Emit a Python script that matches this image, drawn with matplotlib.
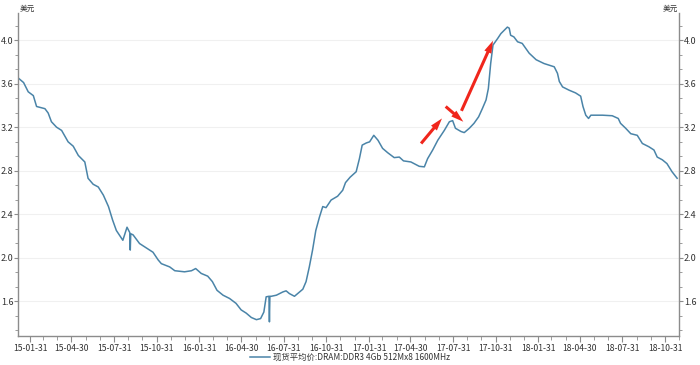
import matplotlib
matplotlib.use('Agg')
import matplotlib.pyplot as plt
import matplotlib.dates as mdates
from matplotlib.ticker import MultipleLocator
import pandas as pd

plt.rcParams['font.family'] = ['Noto Sans CJK SC', 'DejaVu Sans']

# ── Data ─────────────────────────────────────────────────────────────────────
dates = [
    '2015-01-06', '2015-01-17', '2015-01-27', '2015-02-07', '2015-02-14', '2015-03-04',
    '2015-03-11', '2015-03-18', '2015-03-29', '2015-04-09', '2015-04-23', '2015-05-04',
    '2015-05-15', '2015-05-29', '2015-06-05', '2015-06-16', '2015-06-27', '2015-07-08',
    '2015-07-19', '2015-07-28', '2015-08-05', '2015-08-19', '2015-08-28', '2015-09-03',
    '2015-09-04', '2015-09-05', '2015-09-10', '2015-09-24', '2015-10-05', '2015-10-23',
    '2015-11-03', '2015-11-10', '2015-11-28', '2015-12-09', '2015-12-30', '2016-01-14',
    '2016-01-23', '2016-02-04', '2016-02-18', '2016-02-28', '2016-03-09', '2016-03-22',
    '2016-04-05', '2016-04-19', '2016-04-30', '2016-05-11', '2016-05-22', '2016-06-02',
    '2016-06-11', '2016-06-18', '2016-06-23', '2016-06-29', '2016-06-30', '2016-07-01',
    '2016-07-04', '2016-07-15', '2016-07-29', '2016-08-05', '2016-08-12', '2016-08-23',
    '2016-09-10', '2016-09-17', '2016-09-24', '2016-10-01', '2016-10-08', '2016-10-16',
    '2016-10-23', '2016-10-30', '2016-11-10', '2016-11-24', '2016-12-05', '2016-12-11',
    '2016-12-21', '2017-01-03', '2017-01-10', '2017-01-16', '2017-01-25', '2017-02-01',
    '2017-02-10', '2017-02-19', '2017-03-01', '2017-03-12', '2017-03-26', '2017-04-06',
    '2017-04-15', '2017-05-01', '2017-05-19', '2017-05-30', '2017-06-06', '2017-06-17',
    '2017-06-28', '2017-07-12', '2017-07-23', '2017-07-30', '2017-08-05', '2017-08-17',
    '2017-08-24', '2017-09-04', '2017-09-14', '2017-09-24', '2017-10-02', '2017-10-10',
    '2017-10-15', '2017-10-20', '2017-10-25', '2017-11-04', '2017-11-11', '2017-11-18',
    '2017-11-25', '2017-11-29', '2017-12-02', '2017-12-09', '2017-12-17', '2017-12-27',
    '2018-01-11', '2018-01-26', '2018-02-12', '2018-03-06', '2018-03-13', '2018-03-17',
    '2018-03-24', '2018-04-07', '2018-04-21', '2018-05-02', '2018-05-07', '2018-05-13',
    '2018-05-19', '2018-05-24', '2018-06-18', '2018-07-09', '2018-07-22', '2018-07-27',
    '2018-08-07', '2018-08-18', '2018-09-01', '2018-09-12', '2018-09-26', '2018-10-07',
    '2018-10-14', '2018-10-25', '2018-11-04', '2018-11-15', '2018-11-26',
]
prices = [
    3.65, 3.61, 3.525, 3.49, 3.39, 3.37,
    3.33, 3.25, 3.20, 3.17, 3.065, 3.025,
    2.94, 2.88, 2.73, 2.675, 2.65, 2.575,
    2.47, 2.345, 2.25, 2.16, 2.28, 2.23,
    2.07, 2.22, 2.21, 2.13, 2.10, 2.05,
    1.98, 1.945, 1.915, 1.88, 1.87, 1.88,
    1.90, 1.855, 1.83, 1.78, 1.70, 1.655,
    1.625, 1.58, 1.52, 1.49, 1.45, 1.43,
    1.44, 1.50, 1.64, 1.645, 1.41, 1.645,
    1.645, 1.655, 1.685, 1.695, 1.67, 1.645,
    1.71, 1.78, 1.915, 2.07, 2.25, 2.375,
    2.47, 2.46, 2.53, 2.565, 2.62, 2.69,
    2.74, 2.79, 2.91, 3.035, 3.055, 3.065,
    3.125, 3.08, 3.005, 2.965, 2.92, 2.925,
    2.89, 2.88, 2.84, 2.835, 2.91, 2.99,
    3.08, 3.17, 3.25, 3.26, 3.19, 3.16,
    3.15, 3.19, 3.235, 3.295, 3.37, 3.45,
    3.555, 3.785, 3.955, 4.015, 4.06, 4.09,
    4.12, 4.11, 4.045, 4.03, 3.985, 3.97,
    3.88, 3.82, 3.785, 3.755, 3.695, 3.62,
    3.57, 3.54, 3.515, 3.485, 3.39, 3.31,
    3.28, 3.31, 3.31, 3.305, 3.28, 3.235,
    3.19, 3.14, 3.125, 3.05, 3.02, 2.99,
    2.925, 2.90, 2.865, 2.79, 2.73,
]
series_name = '现货平均价:DRAM:DDR3 4Gb 512Mx8 1600MHz'
unit = '美元'
y_ticks = [1.6, 2.0, 2.4, 2.8, 3.2, 3.6, 4.0]

# red annotation arrows: (tail date, tail value, head date, head value)
arrows = [
    ('2017-05-23', 3.05, '2017-07-07', 3.28),
    ('2017-07-15', 3.39, '2017-08-22', 3.25),
    ('2017-08-18', 3.35, '2017-10-25', 3.995),
]

dt = pd.to_datetime(dates)
line_color = '#4a84a8'
axis_color = '#8c8c8c'
text_color = '#333333'

fig = plt.figure(figsize=(7.0, 3.65), dpi=100)
ax = fig.add_axes([0.0264, 0.0795, 0.9436, 0.885])

ax.plot(dt, prices, color=line_color, lw=1.1, label=series_name)

for t0, v0, t1, v1 in arrows:
    ax.annotate('', xy=(pd.Timestamp(t1), v1), xytext=(pd.Timestamp(t0), v0),
                arrowprops=dict(arrowstyle='simple,head_width=0.55,head_length=0.9,tail_width=0.22',
                                color='#f0261c', lw=0, shrinkA=0, shrinkB=0))

ax.set_xlim(pd.Timestamp('2015-01-06'), pd.Timestamp('2018-11-28'))
ax.set_ylim(1.28, 4.25)

# x axis: quarter-end labels, month-end minor ticks
major = pd.date_range('2015-01-31', '2018-10-31', freq='3ME')
minor = pd.date_range('2015-01-31', '2018-11-30', freq='ME')
ax.set_xticks(major)
ax.set_xticks(minor, minor=True)
ax.xaxis.set_major_formatter(mdates.DateFormatter('%y-%m-%d'))

ax.set_yticks(y_ticks)
ax.yaxis.set_minor_locator(MultipleLocator(0.4 / 3))
ax.yaxis.set_major_formatter(plt.FuncFormatter(lambda v, p: f'{v:.1f}'))

ax.grid(axis='y', color='#f0f0f0', lw=0.8)
ax.set_axisbelow(True)

for s in ['left', 'right', 'bottom']:
    ax.spines[s].set_color(axis_color)
    ax.spines[s].set_linewidth(1.0)
ax.spines['top'].set_visible(False)

ax.tick_params(axis='y', which='both', left=True, right=True, labelleft=True, labelright=True,
               color=axis_color, labelcolor=text_color, labelsize=6.5, pad=0.5)
ax.tick_params(axis='y', which='major', length=3)
ax.tick_params(axis='y', which='minor', length=2.5)
ax.tick_params(axis='x', which='both', color=axis_color, labelcolor=text_color,
               labelsize=6.2, pad=1.5)
ax.tick_params(axis='x', which='major', length=4)
ax.tick_params(axis='x', which='minor', length=3)

# unit labels at top of both axes
ax.text(0.002, 1.0, unit, transform=ax.transAxes, fontsize=5.5, color=text_color,
        ha='left', va='bottom')
ax.text(0.998, 1.0, unit, transform=ax.transAxes, fontsize=5.5, color=text_color,
        ha='right', va='bottom')

fig.legend(loc='center', bbox_to_anchor=(0.5, 0.022), frameon=False,
           fontsize=6.0, handlelength=2.4, handletextpad=0.3, labelcolor=text_color,
           borderpad=0, borderaxespad=0)

fig.savefig('out.png', dpi=100)
